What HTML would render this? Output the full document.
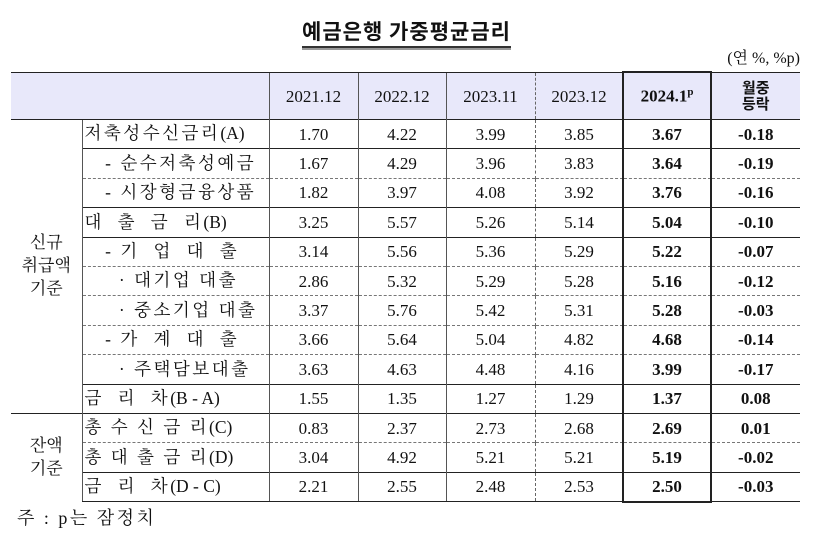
<!DOCTYPE html>
<html><head><meta charset="utf-8"><style>
body{margin:0;width:813px;height:535px;background:#fff;position:relative;overflow:hidden;font-family:"Liberation Serif","Noto Serif CJK KR",serif;color:#111}
.title{position:absolute;left:0;width:813px;top:16px;text-align:center;font-size:21px;font-weight:bold;font-family:"Noto Sans CJK KR",sans-serif}
.title span{border-bottom:2px solid #333;box-shadow:0 2px 0 #999;padding-bottom:0;letter-spacing:1px}
.unit{position:absolute;right:13px;top:45px;font-size:16px}
table{position:absolute;left:11px;top:72px;border-collapse:collapse;table-layout:fixed;font-size:17px}
td{padding:0;height:28.4px;text-align:center;border-top:1px solid #222;border-left:1px solid #555;white-space:nowrap;line-height:1}
tr.h td{height:46px;background:#e8e8fa;border-top:1.5px solid #222}
td.l{text-align:left;padding-left:2px;letter-spacing:2.5px;font-size:17.5px}
td.l i{font-style:normal;letter-spacing:0}
td.g{border-left:none;line-height:1.35}
tr.d td{border-top:1px dashed #777}
td.dv{border-left:1px dashed #666}
td.b{font-weight:bold}
tr.last td{border-bottom:1.5px solid #222}
.box{position:absolute;left:622px;top:71px;width:86px;height:428px;border:2px solid #222}
.note{position:absolute;left:17px;top:504px;font-size:18px;letter-spacing:2.5px}
</style></head><body>
<div class="title"><span>예금은행 가중평균금리</span></div>
<div class="unit">(연 %, %p)</div>
<table>
<colgroup><col style="width:71px"><col style="width:187px"><col style="width:89px"><col style="width:88px"><col style="width:89px"><col style="width:88px"><col style="width:88px"><col style="width:89px"></colgroup>
<tr class="h"><td colspan="2" class="g"></td><td>2021.12</td><td>2022.12</td><td>2023.11</td><td class="dv">2023.12</td><td class="b">2024.1<sup style="font-size:11px">p</sup></td><td class="b" style="font-family:'Noto Sans CJK KR',sans-serif;font-size:15px;line-height:1.05">월중<br>등락</td></tr>
<tr><td rowspan="10" class="g">신규<br>취급액<br>기준</td><td class="l">저축성수신금리<i>(A)</i></td><td>1.70</td><td>4.22</td><td>3.99</td><td class="dv">3.85</td><td class="b">3.67</td><td class="b">-0.18</td></tr>
<tr><td class="l">&nbsp;&nbsp;&nbsp;- 순수저축성예금</td><td>1.67</td><td>4.29</td><td>3.96</td><td class="dv">3.83</td><td class="b">3.64</td><td class="b">-0.19</td></tr>
<tr class="d"><td class="l">&nbsp;&nbsp;&nbsp;- 시장형금융상품</td><td>1.82</td><td>3.97</td><td>4.08</td><td class="dv">3.92</td><td class="b">3.76</td><td class="b">-0.16</td></tr>
<tr><td class="l">대&nbsp; 출&nbsp; 금&nbsp; 리<i>(B)</i></td><td>3.25</td><td>5.57</td><td>5.26</td><td class="dv">5.14</td><td class="b">5.04</td><td class="b">-0.10</td></tr>
<tr><td class="l">&nbsp;&nbsp;&nbsp;- 기&nbsp; 업&nbsp; 대&nbsp; 출</td><td>3.14</td><td>5.56</td><td>5.36</td><td class="dv">5.29</td><td class="b">5.22</td><td class="b">-0.07</td></tr>
<tr class="d"><td class="l">&nbsp;&nbsp;&nbsp;&nbsp;&nbsp;· 대기업 대출</td><td>2.86</td><td>5.32</td><td>5.29</td><td class="dv">5.28</td><td class="b">5.16</td><td class="b">-0.12</td></tr>
<tr class="d"><td class="l">&nbsp;&nbsp;&nbsp;&nbsp;&nbsp;· 중소기업 대출</td><td>3.37</td><td>5.76</td><td>5.42</td><td class="dv">5.31</td><td class="b">5.28</td><td class="b">-0.03</td></tr>
<tr class="d"><td class="l">&nbsp;&nbsp;&nbsp;- 가&nbsp; 계&nbsp; 대&nbsp; 출</td><td>3.66</td><td>5.64</td><td>5.04</td><td class="dv">4.82</td><td class="b">4.68</td><td class="b">-0.14</td></tr>
<tr class="d"><td class="l">&nbsp;&nbsp;&nbsp;&nbsp;&nbsp;· 주택담보대출</td><td>3.63</td><td>4.63</td><td>4.48</td><td class="dv">4.16</td><td class="b">3.99</td><td class="b">-0.17</td></tr>
<tr><td class="l">금&nbsp; 리&nbsp; 차<i>(B - A)</i></td><td>1.55</td><td>1.35</td><td>1.27</td><td class="dv">1.29</td><td class="b">1.37</td><td class="b">0.08</td></tr>
<tr><td rowspan="3" class="g">잔액<br>기준</td><td class="l">총 수 신 금 리<i>(C)</i></td><td>0.83</td><td>2.37</td><td>2.73</td><td class="dv">2.68</td><td class="b">2.69</td><td class="b">0.01</td></tr>
<tr class="d"><td class="l">총 대 출 금 리<i>(D)</i></td><td>3.04</td><td>4.92</td><td>5.21</td><td class="dv">5.21</td><td class="b">5.19</td><td class="b">-0.02</td></tr>
<tr class="last"><td class="l">금&nbsp; 리&nbsp; 차<i>(D - C)</i></td><td>2.21</td><td>2.55</td><td>2.48</td><td class="dv">2.53</td><td class="b">2.50</td><td class="b">-0.03</td></tr>
</table>
<div class="box"></div>
<div class="note">주 : p는 잠정치</div>
</body></html>
